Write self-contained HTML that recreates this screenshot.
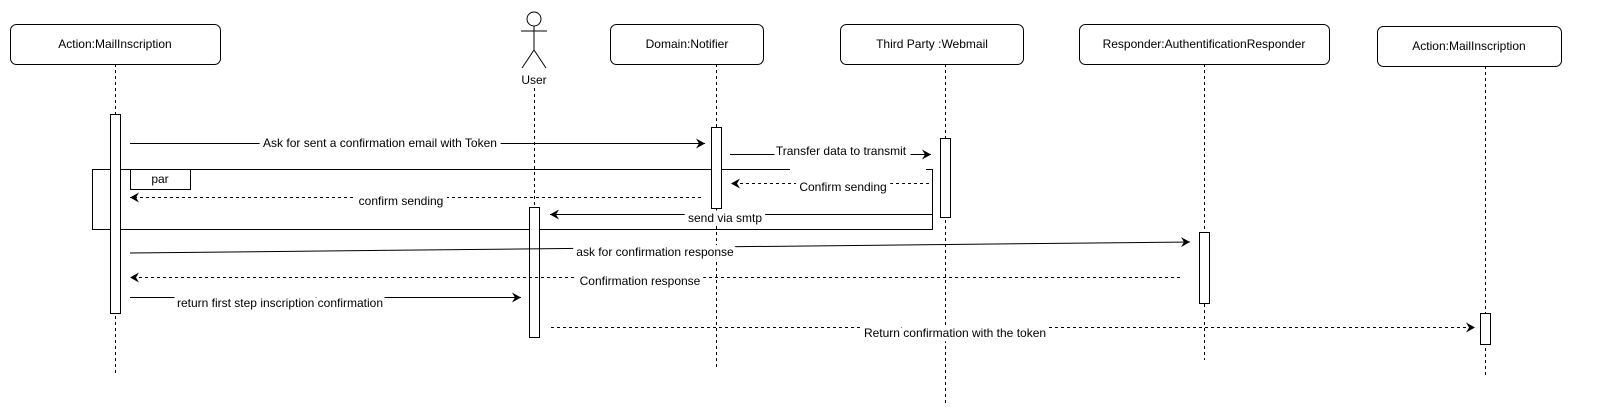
<!DOCTYPE html>
<html><head><meta charset="utf-8"><style>body{margin:0;background:#fff}svg{display:block}</style></head><body>
<svg width="1601" height="418" viewBox="0 0 1601 418" xmlns="http://www.w3.org/2000/svg" font-family="Liberation Sans, sans-serif" font-size="12">
<defs>
<marker id="a" markerWidth="10" markerHeight="10" refX="9" refY="5" orient="auto" markerUnits="userSpaceOnUse"><path d="M0,0 L9,5 L0,10 L3,5 z" fill="#000"/></marker>
</defs>
<g fill="#fff" stroke="#000" stroke-width="1">
<rect x="10.5" y="24.5" width="210" height="40" rx="6"/>
<rect x="610.5" y="24.5" width="153" height="40" rx="6"/>
<rect x="840.5" y="24.5" width="183" height="40" rx="6"/>
<rect x="1079.5" y="24.5" width="250" height="40" rx="6"/>
<rect x="1377.5" y="26.5" width="184" height="40" rx="6"/>
</g>
<g text-anchor="middle" fill="#000">
<text x="115" y="48">Action:MailInscription</text>
<text x="687" y="48">Domain:Notifier</text>
<text x="932" y="48">Third Party :Webmail</text>
<text x="1204" y="48">Responder:AuthentificationResponder</text>
<text x="1469" y="50">Action:MailInscription</text>
<text x="534" y="84">User</text>
</g>
<g stroke="#000" fill="none">
<circle cx="534" cy="19" r="7"/>
<line x1="534" y1="26" x2="534" y2="50"/>
<line x1="521" y1="31" x2="547" y2="31"/>
<line x1="534" y1="50" x2="522" y2="68"/>
<line x1="534" y1="50" x2="546" y2="68"/>
</g>
<g stroke="#000" stroke-dasharray="3,3">
<line x1="115.5" y1="64" x2="115.5" y2="375"/>
<line x1="534.5" y1="88" x2="534.5" y2="340"/>
<line x1="716.5" y1="64" x2="716.5" y2="370"/>
<line x1="945.5" y1="64" x2="945.5" y2="405"/>
<line x1="1204.5" y1="64" x2="1204.5" y2="360"/>
<line x1="1485.5" y1="66" x2="1485.5" y2="375"/>
</g>
<g stroke="#000" fill="none">
<path d="M790,169.5 H92.5 V229.5 H932.5 V169.5 H926"/>
<path d="M130.5,169.5 V189.5 H190.5 V169.5"/>
</g>
<text x="160" y="183" text-anchor="middle">par</text>
<g fill="#fff" stroke="#000">
<rect x="110.5" y="114.5" width="10" height="199"/>
<rect x="529.5" y="207.5" width="10" height="130"/>
<rect x="711.5" y="127.5" width="10" height="81"/>
<rect x="940.5" y="138.5" width="10" height="79"/>
<rect x="1199.5" y="232.5" width="10" height="71"/>
<rect x="1480.5" y="313.5" width="10" height="31"/>
</g>
<g stroke="#000" fill="none">
<line x1="130" y1="143.5" x2="705" y2="143.5" marker-end="url(#a)"/>
<line x1="730" y1="154.5" x2="931" y2="154.5" marker-end="url(#a)"/>
<line x1="929" y1="183.5" x2="731" y2="183.5" stroke-dasharray="3,3" marker-end="url(#a)"/>
<line x1="701" y1="197.5" x2="130" y2="197.5" stroke-dasharray="3,3" marker-end="url(#a)"/>
<line x1="932" y1="214.5" x2="550" y2="214.5" marker-end="url(#a)"/>
<line x1="130" y1="253" x2="1190" y2="242" marker-end="url(#a)"/>
<line x1="1180" y1="277.5" x2="130" y2="277.5" stroke-dasharray="3,3" marker-end="url(#a)"/>
<line x1="130" y1="297.5" x2="521" y2="297.5" marker-end="url(#a)"/>
<line x1="551" y1="327.5" x2="1475" y2="327.5" stroke-dasharray="3,3" marker-end="url(#a)"/>
</g>
<g text-anchor="middle" fill="#000" stroke="#fff" stroke-width="9" stroke-linejoin="round" paint-order="stroke">
<text x="380" y="147">Ask for sent a confirmation email with Token</text>
<text x="841" y="155">Transfer data to transmit</text>
<text x="843" y="191">Confirm sending</text>
<text x="401" y="205">confirm sending</text>
<text x="725" y="222">send via smtp</text>
<text x="655" y="256">ask for confirmation response</text>
<text x="640" y="285">Confirmation response</text>
<text x="280" y="307">return first step inscription confirmation</text>
<text x="955" y="337">Return confirmation with the token</text>
</g>
</svg>
</body></html>
